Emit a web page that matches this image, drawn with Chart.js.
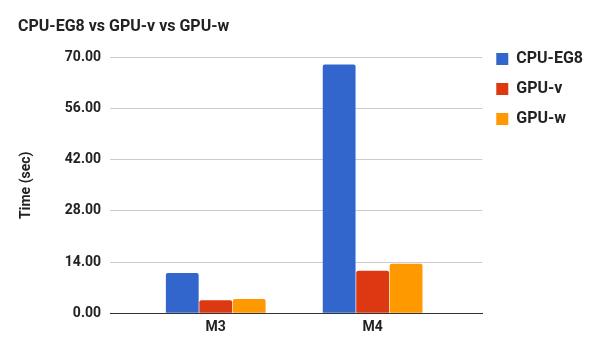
<!DOCTYPE html>
<html>
<head>
<meta charset="utf-8">
<script src="https://cdn.jsdelivr.net/npm/chart.js@4.4.1/dist/chart.umd.min.js"></script>
<style>
html,body{margin:0;padding:0;background:#fff;}
#wrap{width:605px;height:357px;}
</style>
</head>
<body>
<div id="wrap"><canvas id="c" width="605" height="357"></canvas></div>
<script>
const categories = ['M3', 'M4'];
const cpuEG8 = [11.0, 68.0];
const gpuV = [3.55, 11.6];
const gpuW = [3.85, 13.55];
const seriesNames = ['CPU-EG8', 'GPU-v', 'GPU-w'];
const yTicks = [0, 14, 28, 42, 56, 70];

const colors = ['#3366cc', '#dc3912', '#ff9900'];
const seriesValues = [cpuEG8, gpuV, gpuW];

const datasets = seriesNames.map((name, si) => ({
  label: name,
  data: categories.map((c, i) => ({ x: i, y: seriesValues[si][i] })),
  backgroundColor: colors[si],
  borderRadius: 2,
  borderSkipped: 'bottom',
  categoryPercentage: 0.64,
  barPercentage: 0.98
}));

Chart.defaults.font.family = 'Roboto, Arial, sans-serif';
Chart.defaults.color = '#222';

new Chart(document.getElementById('c'), {
  type: 'bar',
  data: { datasets },
  options: {
    responsive: false,
    animation: false,
    devicePixelRatio: 1,
    layout: { padding: { left: 18, right: 12, top: 0, bottom: 15 } },
    plugins: {
      title: {
        display: true,
        text: 'CPU-EG8 vs GPU-v vs GPU-w',
        align: 'start',
        color: '#222',
        font: { size: 16, weight: 'bold' },
        padding: { top: 17.4, bottom: 20.6 }
      },
      legend: {
        position: 'right',
        align: 'start',
        title: {
          display: true,
          text: ' ',
          font: { size: 14 },
          padding: { top: 20.2, bottom: 0 }
        },
        labels: {
          boxWidth: 12,
          boxHeight: 12,
          padding: 14,
          color: '#222',
          font: { size: 16, weight: 'bold' }
        }
      },
      tooltip: { enabled: false }
    },
    scales: {
      x: {
        type: 'linear',
        offset: false,
        min: -0.674,
        max: 1.699,
        afterBuildTicks: (s) => { s.ticks = categories.map((c, i) => ({ value: i })); },
        ticks: {
          callback: (v) => categories[v] ?? '',
          padding: 6,
          color: '#222',
          font: { size: 14, weight: 'bold' },
          maxRotation: 0
        },
        grid: { display: false, drawTicks: false },
        border: { display: true, color: '#333', width: 1 }
      },
      y: {
        min: 0,
        max: 70,
        afterBuildTicks: (s) => { s.ticks = yTicks.map(v => ({ value: v })); },
        afterFit: (s) => { s.width = 92; },
        ticks: {
          callback: (v) => Number(v).toFixed(2),
          padding: 9,
          color: '#222',
          font: { size: 14, weight: 'bold' }
        },
        grid: {
          drawTicks: false,
          color: (ctx) => ctx.tick && ctx.tick.value === 0 ? '#333' : '#cccccc',
          lineWidth: 1
        },
        border: { display: false },
        title: {
          display: true,
          text: 'Time (sec)',
          color: '#222',
          font: { size: 14, weight: 'bold' },
          padding: 0
        }
      }
    }
  }
});
</script>
</body>
</html>
